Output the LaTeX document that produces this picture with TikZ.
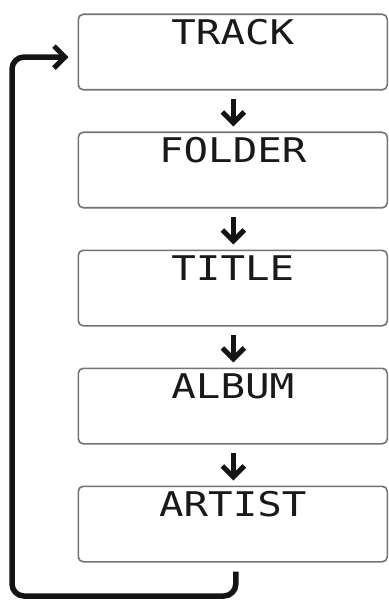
\documentclass[tikz,border=0pt]{standalone}
\usepackage{fontspec}
\usepackage{graphicx}
\newfontfamily\lcd{DejaVu Sans Mono}
\usetikzlibrary{arrows.meta}
\begin{document}
\begin{tikzpicture}[x=1pt,y=-1pt,
  box/.style={draw=black!55, line width=1.6pt, rounded corners=5pt,
    minimum width=309pt, minimum height=75.5pt, inner sep=0pt, anchor=north west},
  lbl/.style={font=\lcd\fontsize{34}{34}\selectfont, text=black!90, inner sep=0pt,
    anchor=center, yshift=-19pt},
  tip/.style={-{Straight Barb[length=11pt,width=22pt,line width=5pt]}},
  flow/.style={tip, line width=5pt, draw=black!92},
  loopline/.style={tip, line width=5.5pt, draw=black!92, rounded corners=12pt}]
\useasboundingbox (0,0) rectangle (388,601);
\node[box, label={[lbl]north:\scalebox{1.2}[1]{TRACK}}]  (b1) at (77.5,13.5) {};
\node[box, label={[lbl]north:\scalebox{1.2}[1]{FOLDER}}] (b2) at (77.5,131.5) {};
\node[box, label={[lbl]north:\scalebox{1.2}[1]{TITLE}}]  (b3) at (77.5,249.5) {};
\node[box, label={[lbl]north:\scalebox{1.2}[1]{ALBUM}}]  (b4) at (77.5,367.5) {};
\node[box, label={[lbl]north:\scalebox{1.2}[1]{ARTIST}}] (b5) at (77.5,485.5) {};
\draw[flow] ([xshift=0.5pt,yshift=-8pt]b1.south) -- ([xshift=0.5pt,yshift=5pt]b2.north);
\draw[flow] ([xshift=0.5pt,yshift=-8pt]b2.south) -- ([xshift=0.5pt,yshift=5pt]b3.north);
\draw[flow] ([xshift=0.5pt,yshift=-8pt]b3.south) -- ([xshift=0.5pt,yshift=5pt]b4.north);
\draw[flow] ([xshift=0.5pt,yshift=-8pt]b4.south) -- ([xshift=0.5pt,yshift=5pt]b5.north);
\coordinate (c1) at (12,596);
\draw[loopline] ([xshift=3pt,yshift=-9pt]b5.south) |- (c1) |- ([xshift=-9pt,yshift=-5pt]b1.west);
\end{tikzpicture}
\end{document}
